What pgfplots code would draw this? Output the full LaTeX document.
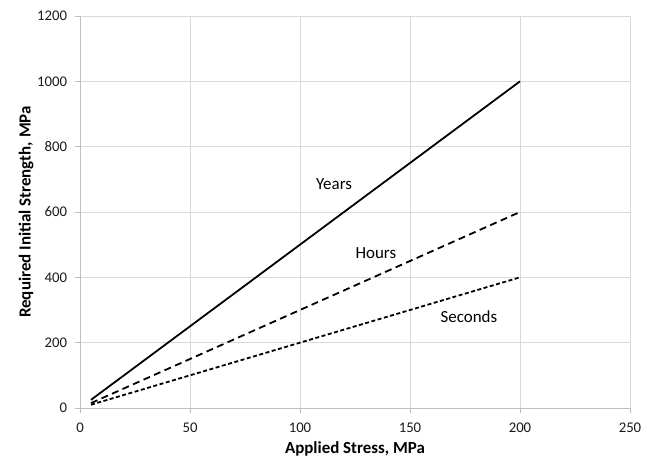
\documentclass[border=0pt]{standalone}
\usepackage{fontspec}
\setmainfont{Carlito}
\usepackage{pgfplots}
\pgfplotsset{compat=1.18}
\definecolor{gridc}{RGB}{217,217,217}
\definecolor{axc}{RGB}{190,190,190}
\begin{document}
\fontsize{14.5}{17}\selectfont
\begin{tikzpicture}[x=1bp,y=1bp]
\useasboundingbox (-80bp,-51bp) rectangle (579bp,408bp);
\begin{axis}[
  at={(0,0)}, anchor=south west,
  scale only axis,
  width=550bp, height=392bp,
  xmin=0, xmax=250, ymin=0, ymax=1200,
  xtick={0,50,...,250}, ytick={0,200,...,1200},
  axis x line*=bottom, axis y line*=left,
  axis line style={draw=axc, line width=0.8pt, -},
  grid=major, major grid style={draw=gridc, line width=0.8pt},
  tick style={draw=axc, line width=0.8pt},
  major tick length=5bp,
  tick align=outside,
  /pgf/number format/assume math mode=true,
  /pgf/number format/1000 sep={},
  tick label style={font=\fontsize{14.8}{17}\selectfont, text=black!90},
  xticklabel style={yshift=-5bp},
  yticklabel style={xshift=-3bp},
  xlabel={\textbf{Applied Stress, MPa}},
  ylabel={\textbf{Required Initial Strength, MPa}},
  label style={font=\fontsize{17}{20}\selectfont},
  xlabel style={at={(axis description cs:0.5,0)}, anchor=center, yshift=-41bp},
  ylabel style={at={(axis description cs:0,0.5)}, anchor=center, xshift=0bp, yshift=54bp, rotate=0},
  clip=false,
]
\addplot[black, line width=1.8pt] coordinates {(5,25) (200,1000)};
\addplot[black, line width=1.8pt, dash pattern=on 7bp off 4.5bp] coordinates {(5,15) (200,600)};
\addplot[black, line width=1.8pt, dash pattern=on 4bp off 2.5bp] coordinates {(5,10) (200,400)};
\node[font=\fontsize{17}{20}\selectfont] at (axis cs:115.5,684) {Years};
\node[font=\fontsize{17}{20}\selectfont] at (axis cs:134.5,474) {Hours};
\node[font=\fontsize{17}{20}\selectfont] at (axis cs:176.8,280) {Seconds};
\end{axis}
\end{tikzpicture}
\end{document}
